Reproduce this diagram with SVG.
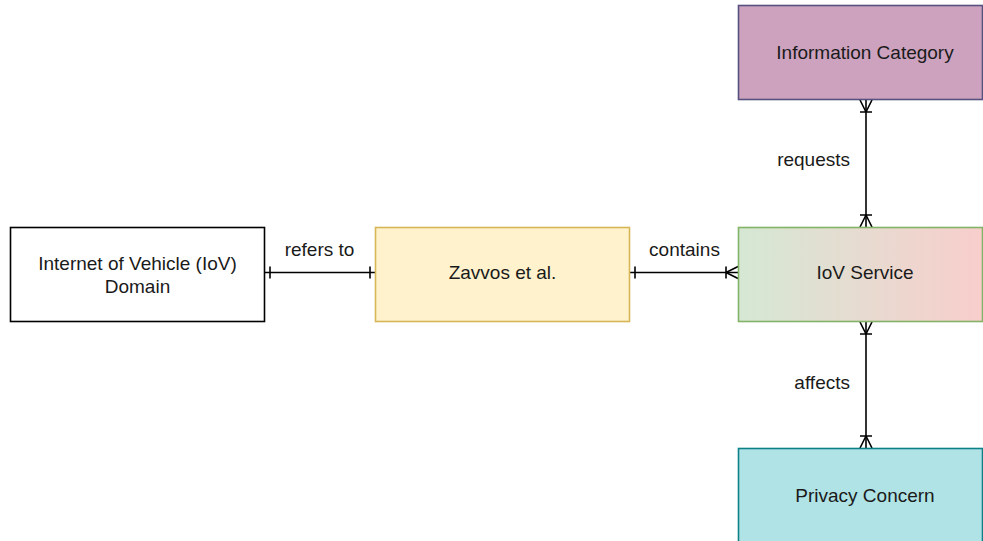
<svg xmlns="http://www.w3.org/2000/svg" width="983" height="541" viewBox="0 0 983 541">
  <style>
    .box { stroke-width: 1.6; }
    .lbl { font-family: "Liberation Sans", Arial, sans-serif; font-size: 19px; fill: #1a1a1a; text-anchor: middle; }
    .lbl.right { text-anchor: end; }
    .edge { fill: none; stroke: #000; stroke-width: 1.6; }
    .mk { fill: none; stroke: #000; stroke-width: 1.6; }
  </style>
  <defs>
    <linearGradient id="svcGrad" x1="0" y1="0" x2="1" y2="0">
      <stop offset="0" stop-color="#d5e8d4"/>
      <stop offset="1" stop-color="#f8cecc"/>
    </linearGradient>
    <!-- ER "exactly one": single bar near the end -->
    <marker id="erOne" viewBox="0 0 20 16" refX="20" refY="8" markerWidth="20" markerHeight="16" markerUnits="userSpaceOnUse" orient="auto-start-reverse">
      <path class="mk" d="M15,2 L15,14"/>
    </marker>
    <!-- ER "one or many": bar plus crow's foot -->
    <marker id="erMandMany" viewBox="0 0 20 16" refX="20" refY="8" markerWidth="20" markerHeight="16" markerUnits="userSpaceOnUse" orient="auto-start-reverse">
      <path class="mk" d="M8,8 L20,2 M8,8 L20,14 M8,2 L8,14"/>
    </marker>
  </defs>

  <g id="connectors">
    <path class="edge" d="M265,272.5 L375,272.5" marker-start="url(#erOne)" marker-end="url(#erOne)"/>
    <path class="edge" d="M630,272.5 L738,272.5" marker-start="url(#erOne)" marker-end="url(#erMandMany)"/>
    <path class="edge" d="M866,100 L866,227" marker-start="url(#erMandMany)" marker-end="url(#erMandMany)"/>
    <path class="edge" d="M866,322 L866,448" marker-start="url(#erMandMany)" marker-end="url(#erMandMany)"/>
    <text class="lbl" x="319.5" y="256">refers to</text>
    <text class="lbl" x="684.5" y="256">contains</text>
    <text class="lbl right" x="850" y="166">requests</text>
    <text class="lbl right" x="850" y="389">affects</text>
  </g>

  <g id="iov-domain">
    <rect class="box" x="10.5" y="227.5" width="254" height="94" fill="#ffffff" stroke="#000000"/>
    <text class="lbl" x="137.5" y="270">Internet of Vehicle (IoV)</text>
    <text class="lbl" x="137.5" y="293">Domain</text>
  </g>

  <g id="zavvos">
    <rect class="box" x="375.5" y="227.5" width="254" height="94" fill="#fff2cc" stroke="#d6b656"/>
    <text class="lbl" x="502.5" y="279">Zavvos et al.</text>
  </g>

  <g id="iov-service">
    <rect class="box" x="738.5" y="227.5" width="244" height="94" fill="url(#svcGrad)" stroke="#82b366"/>
    <text class="lbl" x="865" y="279">IoV Service</text>
  </g>

  <g id="information-category">
    <rect class="box" x="738.5" y="5.5" width="244" height="94" fill="#cda2be" stroke="#56517e"/>
    <text class="lbl" x="865" y="59">Information Category</text>
  </g>

  <g id="privacy-concern">
    <rect class="box" x="738.5" y="448.5" width="244" height="100" fill="#b0e3e6" stroke="#0e8088"/>
    <text class="lbl" x="865" y="502">Privacy Concern</text>
  </g>
</svg>
